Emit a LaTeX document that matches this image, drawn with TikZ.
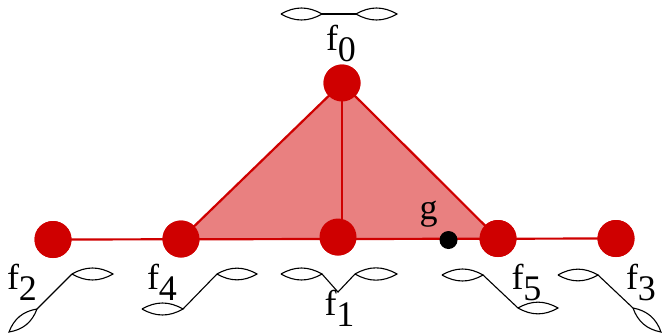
\documentclass[tikz,border=0pt]{standalone}
\usepackage{fontspec}
\setmainfont{Liberation Serif}
\definecolor{dred}{HTML}{CF0000}
\definecolor{lred}{HTML}{E98080}
\tikzset{
  reddot/.style={circle,fill=dred,draw=none,minimum size=37pt,inner sep=0pt},
  blackdot/.style={circle,fill=black,draw=none,minimum size=18pt,inner sep=0pt},
  edgeline/.style={draw=dred,line width=2.2pt},
  curve/.style={draw=black,line width=1.1pt},
  lab/.style={inner sep=0pt,font=\fontsize{36}{36}\selectfont}
}
\newcommand{\fsub}[1]{f\raisebox{-11pt}{#1}}
\newcommand{\lens}[2]{\draw[curve] (#1) to[bend left=30] (#2) to[bend left=30] (#1);}
\begin{document}
\begin{tikzpicture}[x=1pt,y=-1pt]
\useasboundingbox (0,0) rectangle (662,333);
\node[reddot] (f0) at (342,83) {};
\node[reddot] (f2) at (53,239.5) {};
\node[reddot] (f4) at (181,239) {};
\node[reddot] (f1) at (338,237) {};
\node[reddot] (f5) at (498,238.5) {};
\node[reddot] (f3) at (616,238.5) {};
\coordinate (foot) at (342,238.5);
\fill[lred] (f0.center) -- (f4.center) -- (f5.center) -- cycle;
\draw[edgeline] (f2.center) -- (f3.center);
\draw[edgeline] (f0.center) -- (foot);
\draw[edgeline] (f4.center) -- (f0.center) -- (f5.center);
\node[reddot] at (f0) {};
\node[reddot] at (f2) {};
\node[reddot] at (f4) {};
\node[reddot] at (f1) {};
\node[reddot] at (f5) {};
\node[reddot] at (f3) {};
\node[blackdot] (g) at (448.5,240) {};
\node[lab] (gl) at (428.5,214) {g};
\node[lab] (l0) at (341,43) {\fsub{0}};
\node[lab] (l1) at (339.5,308.5) {\fsub{1}};
\node[lab] (l2) at (22,282) {\fsub{2}};
\node[lab] (l3) at (641,282) {\fsub{3}};
\node[lab] (l4) at (162,282) {\fsub{4}};
\node[lab] (l5) at (526.5,282) {\fsub{5}};
% f0 curve
\coordinate (a0) at (281,14); \coordinate (b0) at (322,14);
\coordinate (c0) at (356,14); \coordinate (d0) at (397,14);
\lens{a0}{b0}\lens{c0}{d0}\draw[curve] (b0) -- (c0);
% f1 curve
\coordinate (a1) at (281,274); \coordinate (b1) at (322,274);
\coordinate (m1) at (338,292);
\coordinate (c1) at (355,274); \coordinate (d1) at (397,274);
\lens{a1}{b1}\lens{c1}{d1}\draw[curve] (b1) -- (m1) -- (c1);
% f2 curve
\coordinate (a2) at (72,274); \coordinate (b2) at (113,274);
\coordinate (c2) at (37,309); \coordinate (d2) at (9,332);
\lens{a2}{b2}\lens{c2}{d2}\draw[curve] (a2) -- (c2);
% f4 curve
\coordinate (a4) at (217,274); \coordinate (b4) at (257,274);
\coordinate (c4) at (142,309); \coordinate (d4) at (183,309);
\lens{a4}{b4}\lens{c4}{d4}\draw[curve] (a4) -- (d4);
% f5 curve
\coordinate (a5) at (442,275); \coordinate (b5) at (483,275);
\coordinate (c5) at (518,308); \coordinate (d5) at (558,308);
\lens{a5}{b5}\lens{c5}{d5}\draw[curve] (b5) -- (c5);
% f3 curve
\coordinate (a3) at (558,275); \coordinate (b3) at (598,275);
\coordinate (c3) at (633,308); \coordinate (d3) at (661,332);
\lens{a3}{b3}\lens{c3}{d3}\draw[curve] (b3) -- (c3);
\end{tikzpicture}
\end{document}
